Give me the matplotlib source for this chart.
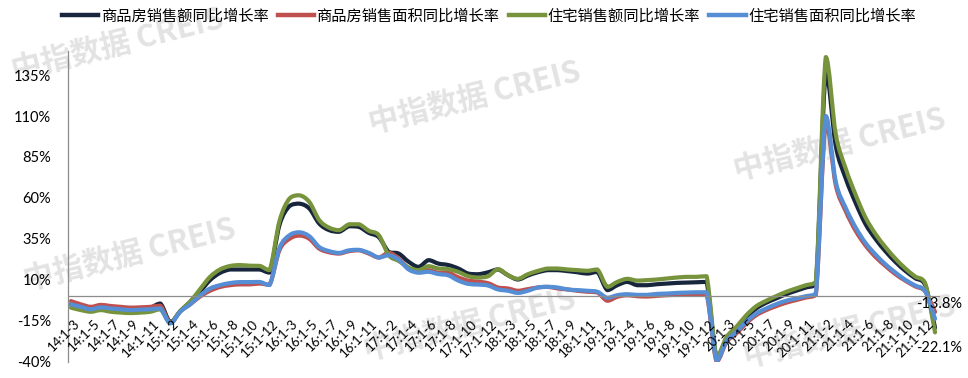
import matplotlib
matplotlib.use("Agg")
import matplotlib.pyplot as plt
import numpy as np
from matplotlib.lines import Line2D
from matplotlib.path import Path
from matplotlib.patches import PathPatch
from matplotlib.ticker import FuncFormatter
import matplotlib.transforms as mtransforms

plt.rcParams['font.family'] = ['Lato', 'Noto Sans CJK SC', 'DejaVu Sans']

# categories: cumulative year-to-date periods 14:1-3 ... 22:1-2
periods = ([('14', m) for m in range(3, 13)]
           + [(str(y), m) for y in range(15, 22) for m in range(2, 13)]
           + [('22', 2)])
categories = ['{}:1-{}'.format(y, m) for y, m in periods]

series_names = ['商品房销售额同比增长率', '商品房销售面积同比增长率',
                '住宅销售额同比增长率', '住宅销售面积同比增长率']

amount_all = [-5.0, -7.0, -8.0, -6.5, -7.5, -8.0, -8.2, -7.8, -7.0, -4.5,
              -15.8, -9.3, -3.5, 2.8, 9.8, 14.2, 16.3, 16.3, 16.3, 16.3, 14.4,
              43.6, 55.0, 56.5, 53.5, 44.3, 40.3, 39.3, 42.7, 42.3, 38.6, 36.0,
              27.0, 26.0, 21.0, 17.9, 22.0, 19.9, 19.0, 16.9, 13.8, 13.4, 14.6,
              16.3, 12.8, 10.2, 12.6, 14.6, 15.9, 15.9, 15.3, 14.6, 13.8, 14.8,
              3.7, 6.7, 8.7, 6.7, 6.7, 7.3, 7.7, 8.1, 8.3, 8.5, 8.7,
              -37.5, -26.0, -19.7, -13.0, -7.5, -4.0, -1.4, 1.2, 3.3, 5.3, 7.3,
              137, 92, 72, 57, 44, 35, 27.5, 21, 15.5, 11, 7, -19.3]

area_all = [-3.0, -5.0, -6.5, -5.3, -6.0, -6.5, -7.0, -6.8, -6.5, -5.8,
            -16.3, -9.2, -5.0, -0.2, 3.3, 5.6, 6.7, 7.2, 7.2, 7.7, 7.0,
            28.2, 35.0, 37.0, 35.0, 29.0, 26.8, 26.0, 27.5, 28.0, 26.0, 23.6,
            26.5, 23.0, 17.0, 15.0, 15.9, 14.3, 14.3, 11.5, 9.5, 8.9, 7.9,
            5.3, 4.7, 3.3, 4.3, 5.3, 5.7, 4.7, 4.1, 3.3, 2.7, 2.3,
            -2.8, -0.4, 0.6, 0.0, -0.2, 0.2, 0.6, 0.8, 0.8, 1.0, 1.2,
            -39.9, -28.0, -22.8, -16.5, -11.6, -8.5, -6.1, -4.0, -2.4, -0.8, 0.8,
            107, 68, 52, 40, 31, 24, 18.5, 13.5, 9.5, 6, 3, -9.6]

amount_res = [-7.0, -8.5, -9.5, -8.5, -9.5, -10.0, -10.3, -10.0, -9.5, -8.0,
              -16.2, -9.0, -3.3, 4.3, 11.8, 16.3, 18.4, 19.0, 18.6, 18.5, 15.9,
              46.0, 59.6, 61.6, 57.5, 46.4, 41.8, 40.3, 43.9, 43.9, 39.9, 37.2,
              25.0, 21.5, 17.5, 15.9, 18.3, 16.9, 16.5, 14.8, 12.2, 11.4, 12.2,
              16.5, 12.8, 10.6, 13.4, 15.4, 16.9, 16.9, 16.3, 15.9, 15.5, 16.3,
              5.7, 8.7, 10.6, 9.5, 9.8, 10.2, 10.8, 11.4, 11.8, 11.8, 12.2,
              -37.0, -25.0, -18.7, -11.6, -6.1, -2.8, 0.0, 2.6, 4.7, 6.7, 8.7,
              146, 99, 78, 62, 48, 38, 30, 23, 17, 12, 8, -22.1]

area_res = [-5.0, -6.5, -8.0, -6.8, -7.5, -8.0, -8.5, -8.2, -8.0, -7.5,
            -16.6, -9.4, -5.0, 0.4, 4.7, 6.7, 8.0, 8.6, 8.6, 8.7, 6.8,
            29.5, 37.2, 39.0, 36.6, 30.0, 27.5, 26.4, 28.0, 28.3, 26.4, 23.6,
            25.0, 22.3, 16.3, 14.3, 14.9, 13.5, 12.7, 9.5, 7.5, 7.1, 6.5,
            4.1, 3.3, 2.0, 3.3, 5.3, 5.7, 5.3, 4.1, 3.7, 3.3, 2.7,
            -1.0, 0.6, 1.2, 0.8, 0.8, 1.4, 1.6, 2.0, 2.2, 2.4, 2.4,
            -39.2, -27.5, -21.8, -15.5, -10.6, -7.5, -4.9, -2.8, -1.4, 0.0, 1.6,
            110, 70, 54, 42, 32.5, 25.5, 19.5, 14.5, 10, 6.5, 3, -13.8]

y_ticks = [-40, -15, 10, 35, 60, 85, 110, 135]

colors = ['#17263c', '#c0504d', '#77933c', '#558ed5']
series = [amount_all, area_all, amount_res, area_res]


def smooth_path(xs, ys):
    # smoothed line: cubic bezier through every point, no overshoot
    pts = np.column_stack([xs, ys]).astype(float)
    n = len(pts)
    verts = [pts[0]]
    codes = [Path.MOVETO]
    for i in range(n - 1):
        p0 = pts[i - 1] if i > 0 else pts[i]
        p1 = pts[i]
        p2 = pts[i + 1]
        p3 = pts[i + 2] if i + 2 < n else pts[i + 1]
        c1 = p1 + (p2 - p0) / 6
        c2 = p2 - (p3 - p1) / 6
        lo, hi = min(p1[1], p2[1]), max(p1[1], p2[1])
        c1[1] = min(max(c1[1], lo), hi)
        c2[1] = min(max(c2[1], lo), hi)
        verts += [c1, c2, p2]
        codes += [Path.CURVE4] * 3
    return Path(verts, codes)


W, H = 968, 378
fig = plt.figure(figsize=(W / 100, H / 100), dpi=100)
ax = fig.add_axes([68 / W, (H - 361.7) / H, 872 / W, 311.2 / H])
ax.patch.set_alpha(0)

# watermark
marks = [(118, 45), (475, 98), (840, 145), (130, 255), (470, 325), (850, 332)]
for mx, my in marks:
    fig.text(mx / W, 1 - my / H, '中指数据 CREIS', fontsize=22, fontweight='bold',
             family=['Noto Sans CJK SC', 'DejaVu Sans'], color='#e3e3e3',
             rotation=14, ha='center', va='center', zorder=-1)

x = list(range(len(categories)))
for vals, c in zip(series, colors):
    ax.add_patch(PathPatch(smooth_path(x, vals), fill=False, edgecolor=c, lw=3,
                           capstyle='round', joinstyle='round'))

ax.set_xlim(-0.3, 87.5)
ax.set_ylim(-40, 150)
ax.set_yticks(y_ticks)
ax.yaxis.set_major_formatter(FuncFormatter(lambda v, p: '{:d}%'.format(int(v))))
ax.tick_params(axis='y', length=0, pad=12, labelsize=10.5)
ax.set_xticks([])
for s in ['top', 'right', 'bottom']:
    ax.spines[s].set_visible(False)
ax.spines['left'].set_color('#8c8c8c')
ax.spines['left'].set_linewidth(0.9)
ax.axhline(0, color='#8c8c8c', lw=0.9, zorder=1)

# category labels, every second one
trans = mtransforms.blended_transform_factory(ax.transData, ax.transAxes)
for i in range(0, len(categories), 2):
    ax.text(i + 0.25, 0.142, categories[i], transform=trans, rotation=45,
            rotation_mode='anchor', ha='right', va='top', fontsize=9.5)

# data labels at the last point
ax.annotate('{:.1f}%'.format(area_res[-1]), (x[-1], area_res[-1]),
            xytext=(3, 11), textcoords='offset points', ha='center', va='center',
            fontsize=10.5)
ax.annotate('{:.1f}%'.format(amount_res[-1]), (x[-1], amount_res[-1]),
            xytext=(3, -11.5), textcoords='offset points', ha='center', va='center',
            fontsize=10.5)

handles = [Line2D([], [], color=c, lw=3.2) for c in colors]
fig.legend(handles, series_names, loc='center', bbox_to_anchor=(0.505, 1 - 16 / H),
           ncol=4, frameon=False, handlelength=2.4, handletextpad=0.15,
           columnspacing=0.6, prop={'family': ['Noto Sans CJK SC'], 'size': 11})

fig.savefig('out.png', dpi=100)
